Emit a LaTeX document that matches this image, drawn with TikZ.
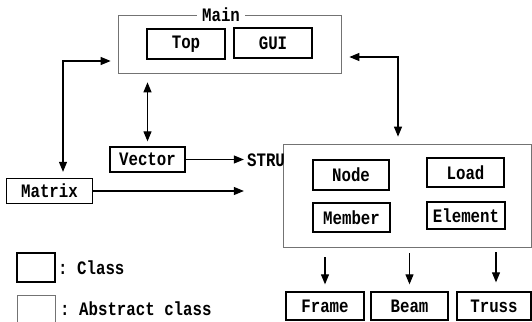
\documentclass[tikz,border=0pt]{standalone}
\usepackage{fontspec}
\setmonofont[FakeStretch=0.83]{Liberation Mono}
\usetikzlibrary{arrows.meta}
\begin{document}
\begin{tikzpicture}[x=1pt,y=-1pt,
  every node/.style={font=\ttfamily\bfseries\fontsize{19pt}{21pt}\selectfont},
  cls/.style={draw=black, line width=1.3pt, inner sep=0pt},
  abscls/.style={draw=black!55, line width=0.7pt, inner sep=0pt},
  arr/.style={line width=1.1pt, -{Triangle[length=10pt,width=8pt]}},
  dbl/.style={line width=1.1pt, {Triangle[length=10pt,width=8pt]}-{Triangle[length=10pt,width=8pt]}}]
\useasboundingbox (0,0) rectangle (532,321);
\clip (0,0) rectangle (532,321);

% main program package
\node[abscls, minimum width=223pt, minimum height=58pt] (Main) at (229.5,44) {};
\node[fill=white, inner xsep=5pt, inner ysep=1pt] (mainlabel) at (221,15) {Main};
\node[cls, minimum width=78pt, minimum height=30pt] (Top) at (186,44) {Top};
\node[cls, minimum width=78pt, minimum height=30pt] (GUI) at (273,43) {GUI};

% numerical classes
\node[cls, minimum width=75pt, minimum height=25pt] (Vector) at (147.5,159.5) {Vector};
\node[cls, minimum width=86pt, minimum height=25pt] (Matrix) at (49.5,191) {Matrix};

% structure package
\node[abscls, minimum width=248pt, minimum height=103pt] (STRU) at (407,195.5) {};
\node[inner sep=0pt] (strulabel) at (266,160) {STRU};
\node[cls, minimum width=76pt, minimum height=30pt] (Node) at (351,175) {Node};
\node[cls, minimum width=77pt, minimum height=29pt] (Load) at (465.5,172.5) {Load};
\node[cls, minimum width=77pt, minimum height=29pt] (Member) at (351.5,217.5) {Member};
\node[cls, minimum width=78pt, minimum height=27pt] (Element) at (466,215.5) {Element};

% derived structures
\node[cls, minimum width=78pt, minimum height=28pt] (Frame) at (325,306) {Frame};
\node[cls, minimum width=77pt, minimum height=28pt] (Beam) at (409.5,306) {Beam};
\node[cls, minimum width=74pt, minimum height=28pt] (Truss) at (494,306) {Truss};

% legend
\node[cls, minimum width=38pt, minimum height=29pt] (legc) at (36,267.5) {};
\node[anchor=west, inner sep=0pt] (legctext) at (58,267.5) {: Class};
\node[abscls, minimum width=38pt, minimum height=27pt] (lega) at (36,308.5) {};
\node[anchor=west, inner sep=0pt] (legatext) at (60,309) {: Abstract class};

% connectors
\draw[dbl, shorten <=7pt, shorten >=6pt] ([yshift=-17pt]Main.west) -| ([xshift=13.5pt]Matrix.north);
\draw[dbl, shorten <=8pt, shorten >=7pt] ([yshift=-13pt]Main.east) -| ([xshift=-9pt]STRU.north);
\draw[dbl, shorten <=9pt, shorten >=5pt] (Vector.north |- Main.south) -- (Vector.north);
\draw[arr, shorten >=3pt] (Vector.east) -- (Vector.east -| strulabel.west);
\draw[arr, shorten >=3pt] (Matrix.east) -- (Matrix.east -| strulabel.west);
\draw[arr, shorten <=10pt, shorten >=7pt] (STRU.south -| Frame.north) -- (Frame.north);
\draw[arr, shorten <=6pt, shorten >=7pt] (STRU.south -| Beam.north) -- (Beam.north);
\draw[arr, shorten <=5pt, shorten >=9pt] ([xshift=2pt]STRU.south -| Truss.north) -- ([xshift=2pt]Truss.north);
\end{tikzpicture}
\end{document}
